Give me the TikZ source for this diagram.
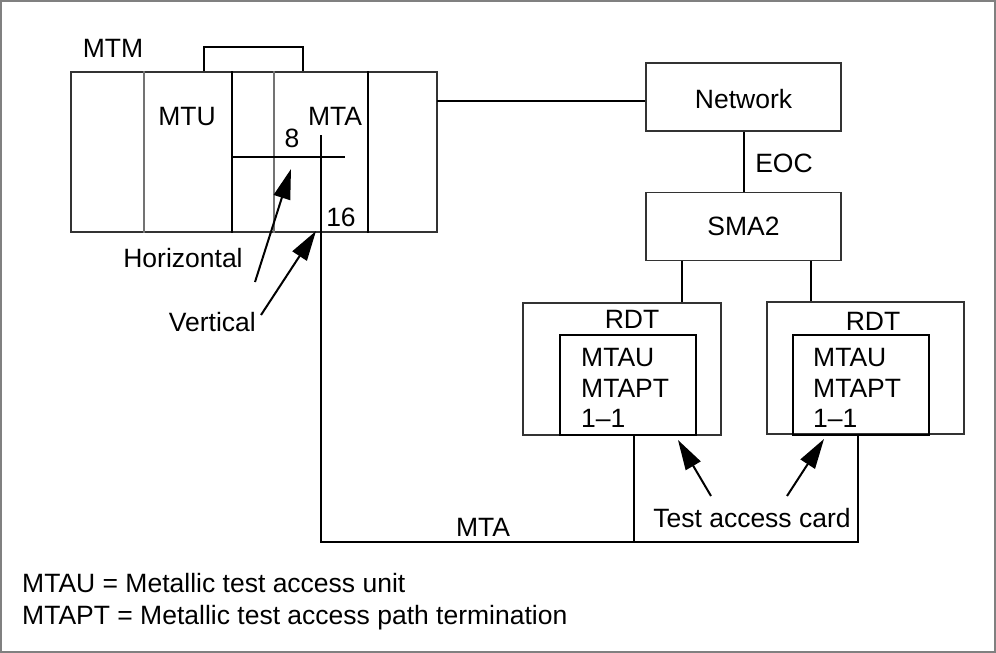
\documentclass[tikz,border=0pt]{standalone}
\usepackage{fontspec}
\setmainfont{Liberation Sans}
\usetikzlibrary{positioning,arrows.meta}
\pgfmathsetmacro{\linkwidth}{2}
\pgfmathsetmacro{\boxwidth}{1.3}

\tikzset{
  txt/.style={inner sep=0pt, anchor=base},
  unit/.style={draw=black!80, line width=\boxwidth pt, inner sep=0pt},
  card/.style={draw=black, line width=\linkwidth pt, inner sep=0pt},
  link/.style={black, line width=\linkwidth pt},
  slot/.style={black!55, line width=1.2pt},
  wall/.style={black, line width=1.3pt},
  pointer/.style={black, line width=\linkwidth pt, -{Triangle[length=30pt,width=17pt]}},
}

\begin{document}
\begin{tikzpicture}[x=1pt, y=-1pt, font=\fontsize{26.5}{30.5}\selectfont]
    \useasboundingbox (0,0) rectangle (996,653);
    \draw[black!50, line width=2pt] (1,1) rectangle (995,652);
    % define boxes
    % MTM shelf
    \node[unit, minimum width=366pt, minimum height=160pt] (mtm) at (254,152) {};
    % network side
    \node[unit, minimum width=195pt, minimum height=68pt] (network) at (743.5,97) {};
    \node[unit, minimum width=195pt, minimum height=68pt, below=60pt of network] (sma) {};
    % remote terminals
    \node[unit, minimum width=198pt, minimum height=132pt] (rdtL) at (622,369) {};
    \node[unit, minimum width=197pt, minimum height=132pt] (rdtR) at (865.5,368) {};
    \node[card, minimum width=136pt, minimum height=100pt] (mtauL) at (628,385) {};
    \node[card, minimum width=136pt, minimum height=100pt] (mtauR) at (861,385) {};
    % define points
    \coordinate (bracket_L) at (204,47);
    \coordinate (bracket_R) at (303,47);
    \coordinate (net_in) at (437,101);
    \coordinate (tap_L) at (682,0);
    \coordinate (tap_R) at (811,0);
    \coordinate (mta_top) at (321,135);
    \coordinate (mta_bottom) at (321,542);
    \coordinate (cross_L) at (231,157);
    \coordinate (cross_R) at (345,157);
    \coordinate (tac_L) at (634,0);
    \coordinate (tac_R) at (858,0);
    \coordinate (horiz_tail) at (255,282);
    \coordinate (horiz_tip) at (291,169);
    \coordinate (vert_tail) at (261,315);
    \coordinate (vert_tip) at (316,231);
    \coordinate (card_tail_L) at (711,496);
    \coordinate (card_tip_L) at (678,440);
    \coordinate (card_tail_R) at (787,496);
    \coordinate (card_tip_R) at (824,439);
    % draw shelf slots
    \foreach \x in {144,274}
        \draw[slot] (mtm.north -| \x,0) -- (mtm.south -| \x,0);
    \foreach \x in {232,368}
        \draw[wall] (mtm.north -| \x,0) -- (mtm.south -| \x,0);
    \draw[link] (mtm.north -| bracket_L) -- (bracket_L) -- (bracket_R) -- (mtm.north -| bracket_R);
    % draw connections
    \draw[link] (net_in) -- (network.west |- net_in);
    \draw[link] (network) -- (sma);
    \draw[link] (sma.south -| tap_L) -- (rdtL.north -| tap_L);
    \draw[link] (sma.south -| tap_R) -- (rdtR.north -| tap_R);
    \draw[link] (cross_L) -- (cross_R);
    \draw[link] (mta_top) -- (mta_bottom) -- (mta_bottom -| tac_R) -- (mtauR.south -| tac_R);
    \draw[link] (mtauL.south -| tac_L) -- (mta_bottom -| tac_L);
    % arrows
    \draw[pointer] (horiz_tail) -- (horiz_tip);
    \draw[pointer] (vert_tail) -- (vert_tip);
    \draw[pointer] (card_tail_L) -- (card_tip_L);
    \draw[pointer] (card_tail_R) -- (card_tip_R);
    % add labels
    \node[txt] (mtm_label) at (113,57.5) {MTM};
    \node[txt] (mtu_label) at (187,125.5) {MTU};
    \node[txt] (mta_label) at (335,125.5) {MTA};
    \node[txt] (eight) at (292,147.5) {8};
    \node[txt] (sixteen) at (341,226.5) {16};
    \node[txt] (horiz) at (183,267.5) {Horizontal};
    \node[txt, anchor=base east] (vert) at (256,331.5) {Vertical};
    \node[txt] at (network.center |- 0,108.5) {Network};
    \node[txt] (eoc) at (784,172.5) {EOC};
    \node[txt] at (sma.center |- 0,235.5) {SMA2};
    \node[txt] (rdtL_label) at (632,328.5) {RDT};
    \node[txt] (rdtR_label) at (873,330.5) {RDT};
    % card contents
    \foreach \side/\x in {L/581,R/813} {
        \node[txt, anchor=base west] (mtau\side_a) at (\x,366.5) {MTAU};
        \node[txt, anchor=base west] (mtau\side_b) at (\x,397.5) {MTAPT};
        \node[txt, anchor=base west] (mtau\side_c) at (\x,427.5) {1--1};
    }
    \node[txt] (card_label) at (752,527.5) {Test access card};
    \node[txt] (mta_bus) at (483,536.5) {MTA};
    \node[txt, anchor=base west] (key_mtau) at (22,592.5) {MTAU = Metallic test access unit};
    \node[txt, anchor=base west] (key_mtapt) at (22,624.5) {MTAPT = Metallic test access path termination};
\end{tikzpicture}
\end{document}
